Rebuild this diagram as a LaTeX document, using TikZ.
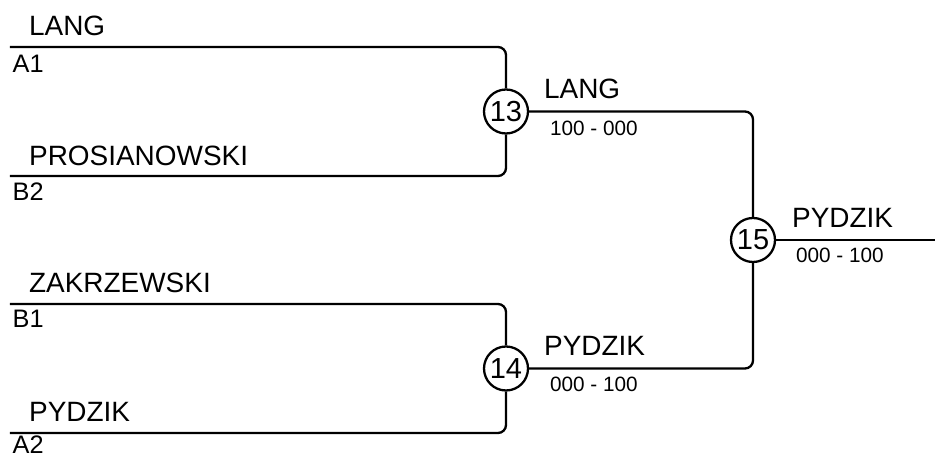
\documentclass[tikz,border=0pt]{standalone}
\usepackage{fontspec}
\setmainfont{Liberation Sans}
\begin{document}
\begin{tikzpicture}[line width=1.3pt,
    player/.style={anchor=base west, inner sep=0pt, font=\fontsize{15.9}{18}\selectfont},
    seed/.style={anchor=base west, inner sep=0pt, font=\fontsize{14.4}{16}\selectfont},
    score/.style={anchor=base west, inner sep=0pt, font=\fontsize{11.8}{14}\selectfont},
    match/.style={circle, draw, fill=white, minimum size=0.88cm, inner sep=0pt, font=\fontsize{16.5}{18}\selectfont},
    bracket/.style={rounded corners=0.16cm}]
    \useasboundingbox (0, 0) rectangle (18.7, 9.18);

    % Entry lines
    \coordinate (a1) at (0.2, 8.24);
    \coordinate (b2) at (0.2, 5.66);
    \coordinate (b1) at (0.2, 3.10);
    \coordinate (a2) at (0.2, 0.52);
    \coordinate (out) at (18.7, 4.38);

    % Matches
    \node[match] (m13) at (10.12, 6.95) {13};
    \node[match] (m14) at (10.12, 1.81) {14};
    \node[match] (m15) at (15.06, 4.38) {15};

    % Upper half
    \draw[bracket] (a1) -| (m13.north);
    \draw[bracket] (b2) -| (m13.south);
    \node[player] (n-lang) at (0.56, 8.46) {LANG};
    \node[seed] (s-a1) at (0.23, 7.72) {A1};
    \node[player] (n-prosianowski) at (0.56, 5.87) {PROSIANOWSKI};
    \node[seed] (s-b2) at (0.23, 5.16) {B2};

    % Lower half
    \draw[bracket] (b1) -| (m14.north);
    \draw[bracket] (a2) -| (m14.south);
    \node[player] (n-zakrzewski) at (0.56, 3.32) {ZAKRZEWSKI};
    \node[seed] (s-b1) at (0.23, 2.62) {B1};
    \node[player] (n-pydzik) at (0.56, 0.74) {PYDZIK};
    \node[seed] (s-a2) at (0.23, 0.1) {A2};

    % Final
    \draw[bracket] (m13.east) -| (m15.north);
    \draw[bracket] (m14.east) -| (m15.south);
    \draw (m15.east) -- (out);
    \node[player] (w13) at (10.86, 7.20) {LANG};
    \node[score] (r13) at (10.98, 6.46) {100 - 000};
    \node[player] (w14) at (10.86, 2.06) {PYDZIK};
    \node[score] (r14) at (10.98, 1.34) {000 - 100};
    \node[player] (w15) at (15.82, 4.62) {PYDZIK};
    \node[score] (r15) at (15.90, 3.92) {000 - 100};
\end{tikzpicture}
\end{document}
